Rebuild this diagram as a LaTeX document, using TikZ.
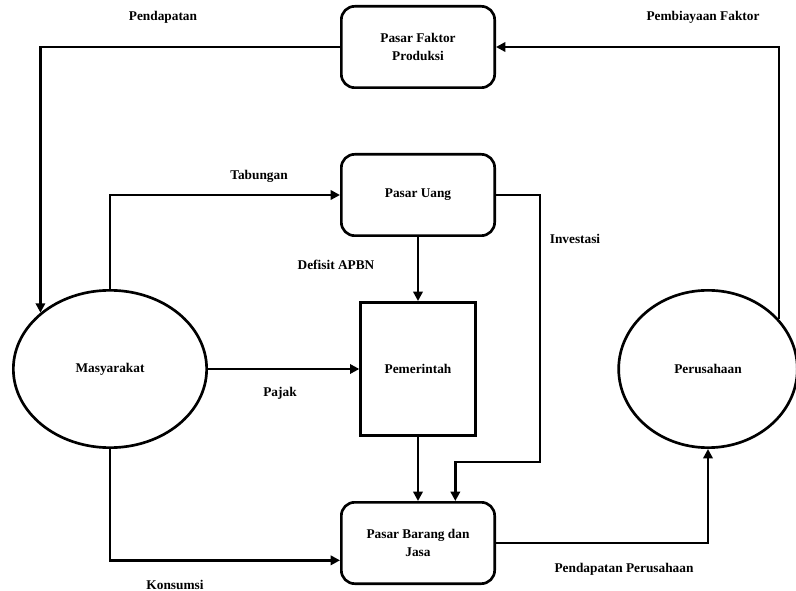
\documentclass[tikz,border=0pt]{standalone}
\usepackage{fontspec}
\setmainfont{Liberation Serif}
\usetikzlibrary{arrows.meta,shapes.geometric}
\tikzset{
  market/.style={draw, line width=2pt, rounded corners=10pt, minimum width=115pt, minimum height=61pt, align=center, font=\fontsize{10}{13.5}\selectfont\bfseries},
  gov/.style={draw, line width=2pt, minimum width=86pt, minimum height=100pt, font=\bfseries},
  actor/.style={draw, ellipse, line width=2pt, inner sep=0pt, font=\bfseries},
  flow/.style={line width=2.2pt, -{Triangle[length=7pt,width=7pt]}},
  lbl/.style={font=\bfseries},
}
\begin{document}
\begin{tikzpicture}[x=0.75pt,y=-0.75pt]
  \useasboundingbox (0,0) rectangle (796,591);
  % markets and actors
  \node[market] (faktor) at (418,47) {Pasar Faktor\\Produksi};
  \node[market] (uang) at (418,195) {Pasar Uang};
  \node[gov] (pem) at (418,369) {Pemerintah};
  \node[market] (barang) at (418,543) {Pasar Barang dan\\Jasa};
  \node[actor, minimum width=145pt, minimum height=118pt] (masy) at (110,369) {Masyarakat};
  \node[actor, minimum width=134pt, minimum height=118pt] (perus) at (708,369) {Perusahaan};
  \coordinate (inv) at (540,462);
  % flows
  \draw[flow] (faktor.west) -| (masy.141);
  \draw[flow] (perus.35) |- (faktor.east);
  \draw[flow] (masy.north) |- (uang.west);
  \draw[flow] (uang.south) -- (pem.north);
  \draw[flow] (uang.east) -| (inv) -| ([xshift=28pt]barang.north);
  \draw[flow] (pem.south) -- (barang.north);
  \draw[flow] (masy.east) -- (pem.west);
  \draw[flow] (masy.south) |- ([yshift=-13pt]barang.west);
  \draw[flow] (barang.east) -| (perus.south);
  % labels
  \node[lbl] (lpend) at (163,17) {Pendapatan};
  \node[lbl] (lbiaya) at (703,17) {Pembiayaan Faktor};
  \node[lbl] (ltab) at (259,176) {Tabungan};
  \node[lbl] (ldef) at (336,265) {Defisit APBN};
  \node[lbl] (linv) at (575,239) {Investasi};
  \node[lbl] (lpajak) at (280,393) {Pajak};
  \node[lbl] (lkons) at (175,585) {Konsumsi};
  \node[lbl] (lpp) at (624,569) {Pendapatan Perusahaan};
\end{tikzpicture}
\end{document}
